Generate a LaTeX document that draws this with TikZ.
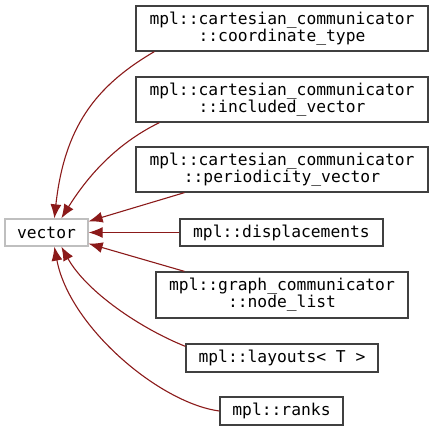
\documentclass[tikz,border=0pt]{standalone}
\usepackage{fontspec}
\usepackage{xcolor}
\usetikzlibrary{arrows.meta,calc}
\newfontfamily\graphmono{DejaVu Sans Mono}
\definecolor{EdgeRed}{HTML}{8B1A1A}
\definecolor{BoxGray}{HTML}{404040}
\definecolor{BaseGray}{HTML}{BFBFBF}

\begin{document}
\begin{tikzpicture}[x=1pt,y=1pt,>={Latex[length=14pt,width=11pt]}]
    \tikzstyle{cls}=[draw=BoxGray,line width=1.3pt,inner sep=0pt,align=center,font=\graphmono\fontsize{16.3}{17}\selectfont,minimum height=27pt]
    \tikzstyle{edge}=[->,draw=EdgeRed,line width=1.1pt]
    \useasboundingbox (0,0) rectangle (433,431);
    \node[cls,draw=BaseGray,minimum width=83pt]          (vec)   at (46.5,198.5) {vector};
    \node[cls,minimum width=292pt,minimum height=45pt]   (coord) at (282,402.5)  {mpl::cartesian\_communicator\\::coordinate\_type};
    \node[cls,minimum width=292pt,minimum height=45pt]   (incl)  at (282,331.5)  {mpl::cartesian\_communicator\\::included\_vector};
    \node[cls,minimum width=292pt,minimum height=45pt]   (peri)  at (282,261.5)  {mpl::cartesian\_communicator\\::periodicity\_vector};
    \node[cls,minimum width=203pt]                       (disp)  at (281.5,198.5){mpl::displacements};
    \node[cls,minimum width=252pt,minimum height=46pt]   (graph) at (282,136)    {mpl::graph\_communicator\\::node\_list};
    \node[cls,minimum width=192pt,minimum height=28pt]   (lay)   at (282,73)     {mpl::layouts< T >};
    \node[cls,minimum width=123pt,minimum height=28pt]   (ranks) at (281.5,20)   {mpl::ranks};
    \draw[edge] ($(coord.south west)+(19,0)$) .. controls +(-60,-35) and +(10,90) .. ($(vec.north west)+(50,0)$);
    \draw[edge] ($(incl.south west)+(24,0)$) .. controls +(-45,-22) and +(25,40) .. ($(vec.north west)+(57,0)$);
    \draw[edge] ($(peri.south west)+(49,0)$) -- ($(vec.north east)+(0,-3)$);
    \draw[edge] (disp) -- (vec);
    \draw[edge] ($(graph.north west)+(29,0)$) -- ($(vec.south east)+(0,3)$);
    \draw[edge] ($(lay.north west)+(0,-3)$) .. controls +(-45,18) and +(25,-45) .. ($(vec.south west)+(57,0)$);
    \draw[edge] (ranks.west) .. controls +(-60,8) and +(15,-80) .. ($(vec.south west)+(50,0)$);
  \end{tikzpicture}
\end{document}
